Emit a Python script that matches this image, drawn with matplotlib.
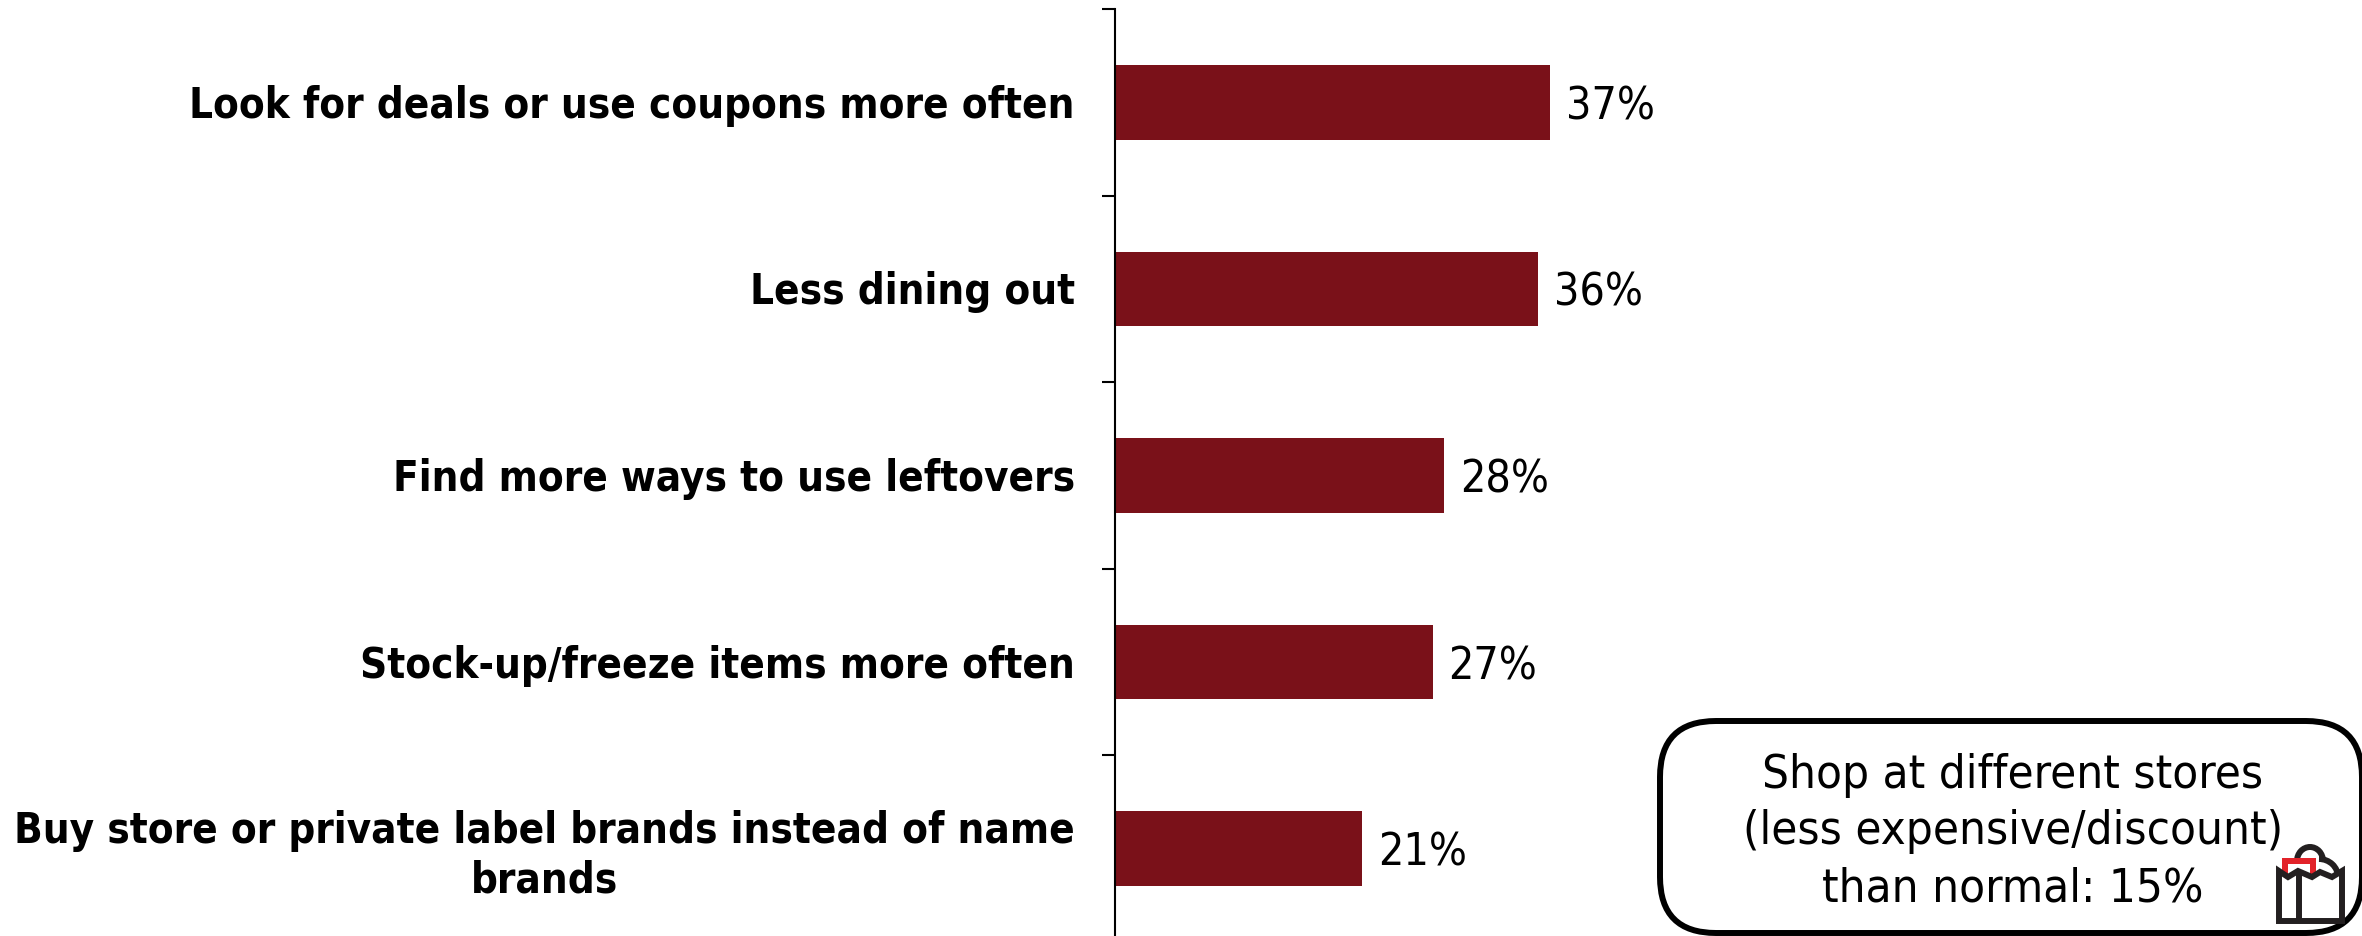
# Grocery savings behaviours, horizontal bar chart with a callout box

import matplotlib
matplotlib.use("Agg")
import matplotlib.pyplot as plt
from matplotlib.patches import FancyBboxPatch, Polygon, Arc
from matplotlib.transforms import ScaledTranslation

categories = [
    "Look for deals or use coupons more often",
    "Less dining out",
    "Find more ways to use leftovers",
    "Stock-up/freeze items more often",
    "Buy store or private label brands instead of name\nbrands",
]
values = [37, 36, 28, 27, 21]
callout_text = "Shop at different stores\n(less expensive/discount)\nthan normal: 15%"

W, H = 2362, 937
BAR_COLOR = "#7A1119"
FONT = "DejaVu Sans"

fig = plt.figure(figsize=(W / 100, H / 100), dpi=100)
fig.patch.set_facecolor("white")

# axes run slightly past the bottom edge, so the last tick is cut off
left, right, top, bottom = 1115, W, 10, 943
ax = fig.add_axes([left / W, (H - bottom) / H, (right - left) / W, (bottom - top) / H])
positions = list(range(len(values)))
ax.barh(positions, values, height=0.4, color=BAR_COLOR)
ax.set_xlim(0, (right - left) / 11.76)
ax.set_ylim(len(values) - 0.5, -0.5)

for s in ["top", "right", "bottom"]:
    ax.spines[s].set_visible(False)
ax.spines["left"].set_linewidth(1.5)
ax.xaxis.set_visible(False)

# tick marks sit between the categories, labels at the bar centres
ax.set_yticks([p - 0.5 for p in positions] + [len(values) - 0.5])
ax.set_yticklabels([])
ax.tick_params(axis="y", which="major", length=9.5, width=1.5)
ax.set_yticks(positions, minor=True)
ax.set_yticklabels(categories, minor=True, fontsize=30.2, fontweight="bold",
                   family=FONT, stretch="condensed", multialignment="center",
                   linespacing=1.22)
ax.tick_params(axis="y", which="minor", length=0, pad=29)

# nudge the category labels up a little
nudge = ScaledTranslation(0, 1.5 / 72, fig.dpi_scale_trans)
for label in ax.get_yticklabels(minor=True):
    label.set_transform(label.get_transform() + nudge)

for p, v in zip(positions, values):
    ax.annotate(f"{v}%", (v, p), xytext=(11.5, -2.5), textcoords="offset points",
                va="center", ha="left", fontsize=32, family=FONT,
                stretch="condensed")

# overlay in pixel coordinates for the callout and the bag icon
over = fig.add_axes([0, 0, 1, 1])
over.set_xlim(0, W)
over.set_ylim(H, 0)
over.axis("off")
over.patch.set_alpha(0)

pad = 56
over.add_patch(FancyBboxPatch((1660 + pad, 722 + pad), 702 - 2 * pad, 212 - 2 * pad,
                              boxstyle=f"round,pad={pad}", facecolor="white",
                              edgecolor="black", linewidth=4.3))
over.text(2013, 832, callout_text, ha="center", va="center", fontsize=34,
          family=FONT, stretch="condensed", linespacing=1.33, color="black")

# shopping bag icon
DARK = "#231F20"
over.add_patch(Arc((2310, 862), 26, 28, theta1=180, theta2=360, color=DARK, linewidth=4.3))
over.add_patch(Arc((2319, 878), 38, 36, theta1=270, theta2=360, color=DARK, linewidth=4.3))
over.add_patch(Polygon([(2282, 859), (2316, 859), (2316, 875), (2310, 875), (2310, 865),
                        (2288, 865), (2288, 875), (2282, 875)], closed=True,
                       facecolor="#E2232A", edgecolor="none", zorder=3))
over.add_patch(Polygon([(2279, 922), (2279, 872), (2288, 878), (2298, 872), (2312, 878),
                        (2320, 873), (2332, 878), (2342, 872), (2342, 922)], closed=True,
                       facecolor="white", edgecolor=DARK, linewidth=4.3, zorder=4))
over.plot([2299, 2299], [874, 922], color=DARK, linewidth=4.3, zorder=5, solid_capstyle="butt")

fig.savefig("out.png", dpi=100)
